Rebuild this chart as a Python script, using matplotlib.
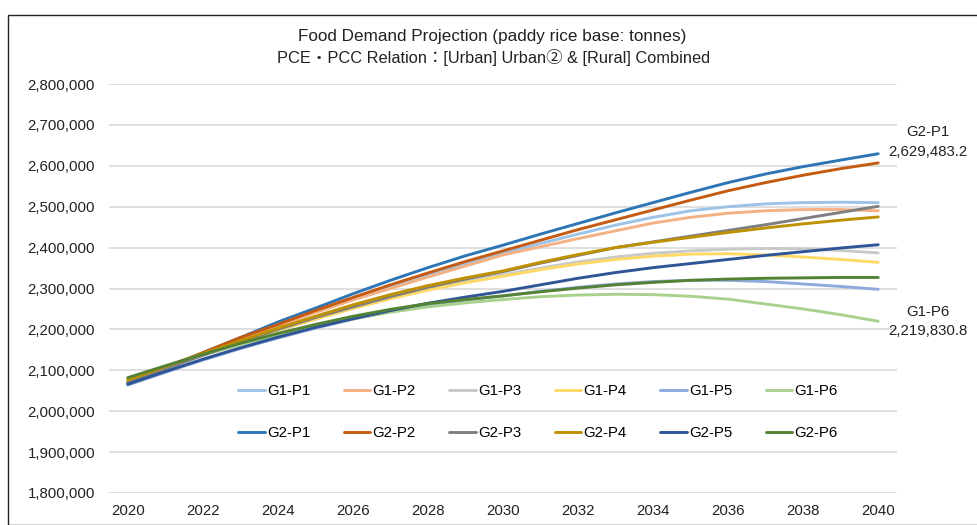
import matplotlib
matplotlib.use("Agg")
import matplotlib.pyplot as plt
from matplotlib.patches import Rectangle
from matplotlib.ticker import FuncFormatter, MultipleLocator

plt.rcParams['font.family'] = ['Liberation Sans', 'Noto Sans CJK JP', 'DejaVu Sans']

years = list(range(2020, 2041))

# Projected food demand (paddy rice base), thousands of tonnes
g1_p1 = [2068, 2105, 2141, 2177, 2211, 2244, 2276, 2306, 2334, 2361, 2386,
         2410, 2433, 2455, 2474, 2490, 2500, 2507, 2510, 2511, 2510]
g1_p2 = [2072, 2107, 2141, 2176, 2209, 2241, 2272, 2300, 2328, 2355, 2382,
         2402, 2422, 2441, 2460, 2474, 2484, 2490, 2493, 2493, 2490]
g1_p3 = [2070, 2103, 2136, 2167, 2197, 2225, 2252, 2277, 2299, 2317, 2333,
         2350, 2365, 2377, 2386, 2392, 2396, 2398, 2397, 2393, 2387]
g1_p4 = [2075, 2107, 2139, 2169, 2198, 2225, 2251, 2275, 2296, 2314, 2330,
         2346, 2360, 2371, 2379, 2384, 2385, 2382, 2377, 2371, 2364]
g1_p5 = [2064, 2095, 2125, 2153, 2179, 2203, 2225, 2244, 2260, 2272, 2282,
         2293, 2303, 2311, 2317, 2320, 2320, 2317, 2311, 2305, 2298]
g1_p6 = [2080, 2109, 2137, 2163, 2187, 2208, 2226, 2242, 2255, 2265, 2273,
         2280, 2284, 2286, 2285, 2281, 2274, 2262, 2250, 2236, 2219.8308]
g2_p1 = [2068, 2106, 2143, 2180, 2218, 2252, 2287, 2320, 2351, 2380, 2406,
         2433, 2459, 2485, 2510, 2535, 2559, 2580, 2598, 2614, 2629.4832]
g2_p2 = [2070, 2107, 2143, 2180, 2212, 2246, 2278, 2309, 2338, 2366, 2392,
         2418, 2444, 2468, 2492, 2516, 2539, 2559, 2577, 2593, 2607]
g2_p3 = [2070, 2104, 2137, 2169, 2200, 2229, 2255, 2280, 2303, 2323, 2341,
         2362, 2381, 2400, 2414, 2428, 2442, 2456, 2471, 2486, 2501]
g2_p4 = [2076, 2109, 2141, 2172, 2203, 2232, 2260, 2285, 2307, 2326, 2343,
         2364, 2383, 2400, 2413, 2425, 2437, 2448, 2458, 2467, 2475]
g2_p5 = [2066, 2097, 2127, 2155, 2181, 2205, 2226, 2246, 2264, 2279, 2293,
         2309, 2325, 2339, 2351, 2361, 2371, 2381, 2390, 2399, 2407]
g2_p6 = [2082, 2111, 2139, 2166, 2190, 2212, 2232, 2249, 2263, 2273, 2282,
         2292, 2301, 2309, 2315, 2320, 2323, 2325, 2326, 2327, 2327]

series_names = ["G1-P1", "G1-P2", "G1-P3", "G1-P4", "G1-P5", "G1-P6",
                "G2-P1", "G2-P2", "G2-P3", "G2-P4", "G2-P5", "G2-P6"]
series_values = [g1_p1, g1_p2, g1_p3, g1_p4, g1_p5, g1_p6,
                 g2_p1, g2_p2, g2_p3, g2_p4, g2_p5, g2_p6]
series_colors = ["#9DC3E6", "#F4B183", "#C9C9C9", "#FFD966", "#8FAADC", "#A9D18E",
                 "#2E75B6", "#C55A11", "#7F7F7F", "#BF9000", "#2F5597", "#548235"]

x_ticks = list(range(2020, 2041, 2))
title = "Food Demand Projection (paddy rice base: tonnes)"
subtitle = "PCE\u30fbPCC Relation\uff1a[Urban] Urban\u2461 & [Rural] Combined"
labelled = {"G2-P1": 8.6, "G1-P6": 0.0}

W, H = 977, 525
fig = plt.figure(figsize=(W / 100, H / 100), dpi=100)
fig.patches.append(Rectangle((8 / W, 0), 1.0, 1 - 15 / H, transform=fig.transFigure,
                             fill=False, edgecolor="#222222", linewidth=1.0))

ax = fig.add_axes([109 / W, 1 - 493 / H, (897 - 109) / W, (493 - 84) / H])

lines = {}
for name, vals, col in zip(series_names, series_values, series_colors):
    tonnes = [v * 1000 for v in vals]
    ln, = ax.plot(years, tonnes, color=col, linewidth=2.1, solid_capstyle="round",
                  label=name)
    lines[name] = (ln, tonnes)

for name, dy in labelled.items():
    tonnes = lines[name][1]
    ax.annotate(f"{name}\n{tonnes[-1]:,.1f}", xy=(years[-1], tonnes[-1]),
                xytext=(35.5, dy), textcoords="offset points", ha="center",
                va="center", fontsize=10.8, linespacing=1.5, color="#222222",
                annotation_clip=False)

ax.set_xlim(2019.5, 2040.5)
ax.set_ylim(1_800_000, 2_800_000)
ax.set_xticks(x_ticks)
ax.yaxis.set_major_locator(MultipleLocator(100_000))
ax.yaxis.set_major_formatter(FuncFormatter(lambda v, p: f"{v:,.0f}"))
ax.grid(axis="y", color="#D9D9D9", linewidth=1.2)
ax.set_axisbelow(True)
for s in ax.spines.values():
    s.set_visible(False)
ax.tick_params(axis="both", length=0, labelsize=10.8, labelcolor="#222222")
ax.tick_params(axis="y", pad=10)
ax.tick_params(axis="x", pad=8)

fig.text(492 / W, 1 - 37 / H, title, ha="center", va="center", fontsize=12.3,
         color="#222222")
fig.text(494 / W, 1 - 57 / H, subtitle, ha="center", va="center", fontsize=11.8,
         color="#222222")

# legend: two rows (G1 on top, G2 below), six columns
order = []
for i in range(6):
    order += [lines[series_names[i]][0], lines[series_names[i + 6]][0]]
fig.legend(handles=order, labels=[h.get_label() for h in order], ncol=6,
           loc="center", bbox_to_anchor=(538 / W, 1 - 412 / H), frameon=False,
           fontsize=10.8, handlelength=1.75, handletextpad=0.15,
           columnspacing=2.25, labelspacing=1.85)

fig.savefig("out.png", dpi=100)
